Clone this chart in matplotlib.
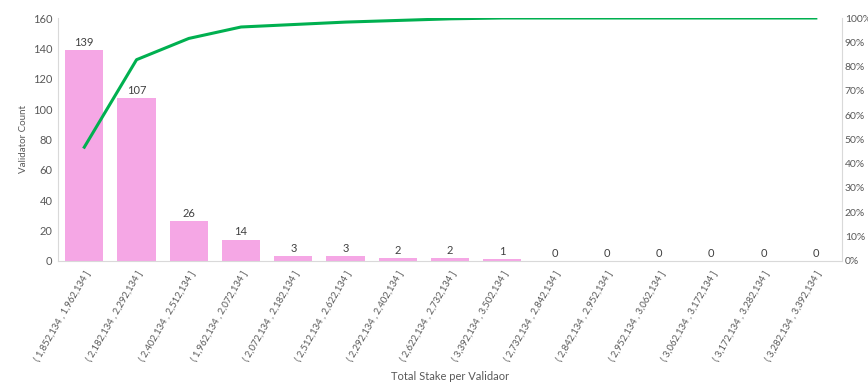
import numpy as np
import matplotlib
matplotlib.use("Agg")
import matplotlib.pyplot as plt
from matplotlib.ticker import PercentFormatter

# histogram bins (Pareto-sorted) and counts
bins = [
    "( 1,852,134 , 1,962,134 ]", "( 2,182,134 , 2,292,134 ]", "( 2,402,134 , 2,512,134 ]",
    "( 1,962,134 , 2,072,134 ]", "( 2,072,134 , 2,182,134 ]", "( 2,512,134 , 2,622,134 ]",
    "( 2,292,134 , 2,402,134 ]", "( 2,622,134 , 2,732,134 ]", "( 3,392,134 , 3,502,134 ]",
    "( 2,732,134 , 2,842,134 ]", "( 2,842,134 , 2,952,134 ]", "( 2,952,134 , 3,062,134 ]",
    "( 3,062,134 , 3,172,134 ]", "( 3,172,134 , 3,282,134 ]", "( 3,282,134 , 3,392,134 ]",
]
counts = [139, 107, 26, 14, 3, 3, 2, 2, 1, 0, 0, 0, 0, 0, 0]

cum_pct = np.cumsum(counts) / np.sum(counts) * 100

plt.rcParams["font.family"] = ["Lato", "DejaVu Sans"]
gray = "#595959"
axis_col = "#d9d9d9"

fig = plt.figure(figsize=(8.68, 3.83), dpi=100)
ax = fig.add_axes([0.067, 0.319, 0.903, 0.634])
x = np.arange(len(bins))
ax.bar(x, counts, width=0.73, color="#f5a7e5", zorder=2)
for xi, c in zip(x, counts):
    ax.text(xi, c + 1.5, str(c), ha="center", va="bottom", fontsize=8, color="#404040")

ax.set_xlim(-0.5, len(bins) - 0.5)
ax.set_ylim(0, 160)
ax.set_yticks(range(0, 161, 20))
ax.set_xticks(x)
ax.set_xticklabels(bins, rotation=60, ha="right", rotation_mode="anchor", fontsize=6.8, color=gray)
ax.tick_params(axis="y", labelsize=8, labelcolor=gray, length=0, pad=4)
ax.tick_params(axis="x", length=0, pad=6)
ax.set_ylabel("Validator Count", fontsize=7, color=gray, labelpad=4)
ax.set_xlabel("Total Stake per Validaor", fontsize=8, color=gray, labelpad=6)
for s in ["top", "right"]:
    ax.spines[s].set_visible(False)
for s in ["left", "bottom"]:
    ax.spines[s].set_color(axis_col)

ax2 = ax.twinx()
ax2.plot(x, cum_pct, color="#00b050", linewidth=2.2, zorder=3)
ax2.set_ylim(0, 100)
ax2.set_yticks(range(0, 101, 10))
ax2.yaxis.set_major_formatter(PercentFormatter(decimals=0))
ax2.tick_params(axis="y", labelsize=7.5, labelcolor=gray, length=0, pad=2)
for s in ["top", "left", "bottom"]:
    ax2.spines[s].set_visible(False)
ax2.spines["right"].set_color(axis_col)

fig.savefig("out.png", dpi=100)
